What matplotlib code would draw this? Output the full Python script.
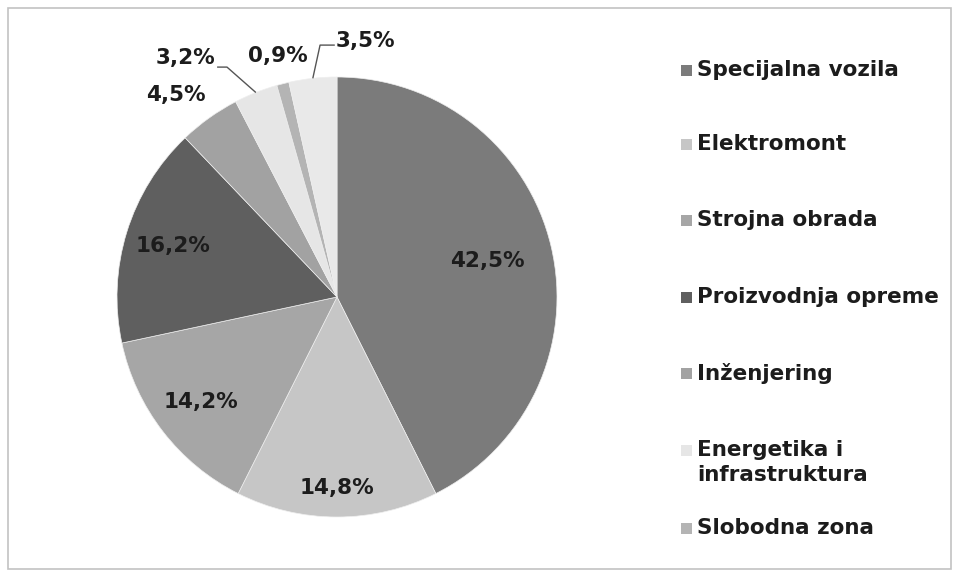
import numpy as np
import matplotlib.pyplot as plt
from matplotlib.patches import Rectangle

# Podaci (udio po poslovnim jedinicama)
categories = ["Specijalna vozila", "Elektromont", "Strojna obrada", "Proizvodnja opreme",
              "Inženjering", "Energetika i\ninfrastruktura", "Slobodna zona", ""]
values = [42.5, 14.8, 14.2, 16.2, 4.5, 3.2, 0.9, 3.5]
value_labels = ["42,5%", "14,8%", "14,2%", "16,2%", "4,5%", "3,2%", "0,9%", "3,5%"]

colors = ["#7b7b7b", "#c6c6c6", "#a6a6a6", "#5f5f5f", "#a2a2a2", "#e6e6e6", "#b4b4b4", "#e9e9e9"]

# Polozaj oznaka: udaljenost od centra (u radijusima) i pomak kuta (stupnjevi)
label_r = [0.70, 0.87, 0.78, 0.78, 1.175, 1.285, 1.13, 1.17]
label_shift = [0, 0, 0, 0, 3, 10.7, -0.5, -12.6]

W, H = 959, 577
fig = plt.figure(figsize=(W / 100, H / 100), dpi=100)

# os tako da je radijus kruga ~220 px, centar na (337, 297)
cx, cy, R = 337, 297, 220
half = 1.25 * R
ax = fig.add_axes([(cx - half) / W, (H - cy - half) / H, 2 * half / W, 2 * half / H])
ax.set_xlim(-1.25, 1.25)
ax.set_ylim(-1.25, 1.25)
ax.set_aspect("equal")
ax.axis("off")

wedges, _ = ax.pie(values, colors=colors, startangle=90, counterclock=False, radius=1,
                   wedgeprops=dict(edgecolor="#eeeeee", linewidth=0.5))

txt_color = "#1c1c1c"
fs = 15.5
for i, w in enumerate(wedges):
    mid = np.deg2rad((w.theta1 + w.theta2) / 2 + label_shift[i])
    x, y = label_r[i] * np.cos(mid), label_r[i] * np.sin(mid)
    ax.text(x, y, value_labels[i], ha="center", va="center", fontsize=fs,
            fontweight="bold", color=txt_color)

# linije vodilice za 3,2% i 3,5%
def leader(i, pts):
    w = wedges[i]
    mid = np.deg2rad((w.theta1 + w.theta2) / 2)
    xs = [p[0] for p in pts] + [np.cos(mid)]
    ys = [p[1] for p in pts] + [np.sin(mid)]
    ax.plot(xs, ys, color="#555555", lw=1.0, solid_capstyle="butt")

leader(5, [(-0.545, 1.045), (-0.50, 1.045)])
leader(7, [(-0.01, 1.145), (-0.077, 1.145)])

# legenda
leg_y = [70, 144, 220, 297, 373, 450, 528]
for k, yy in enumerate(leg_y):
    fig.patches.append(Rectangle((681 / W, 1 - (yy + 6) / H), 11 / W, 11 / H,
                                 transform=fig.transFigure, facecolor=colors[k],
                                 edgecolor="none"))
    fig.text(697 / W, 1 - (yy - 10) / H, categories[k], ha="left", va="top",
             fontsize=fs, fontweight="bold", color=txt_color, linespacing=1.32)

# okvir grafikona
fig.patches.append(Rectangle((8 / W, 8 / H), (W - 16) / W, (H - 16) / H,
                             transform=fig.transFigure, fill=False,
                             edgecolor="#c2c2c2", linewidth=1.2))

fig.savefig("out.png", dpi=100)
